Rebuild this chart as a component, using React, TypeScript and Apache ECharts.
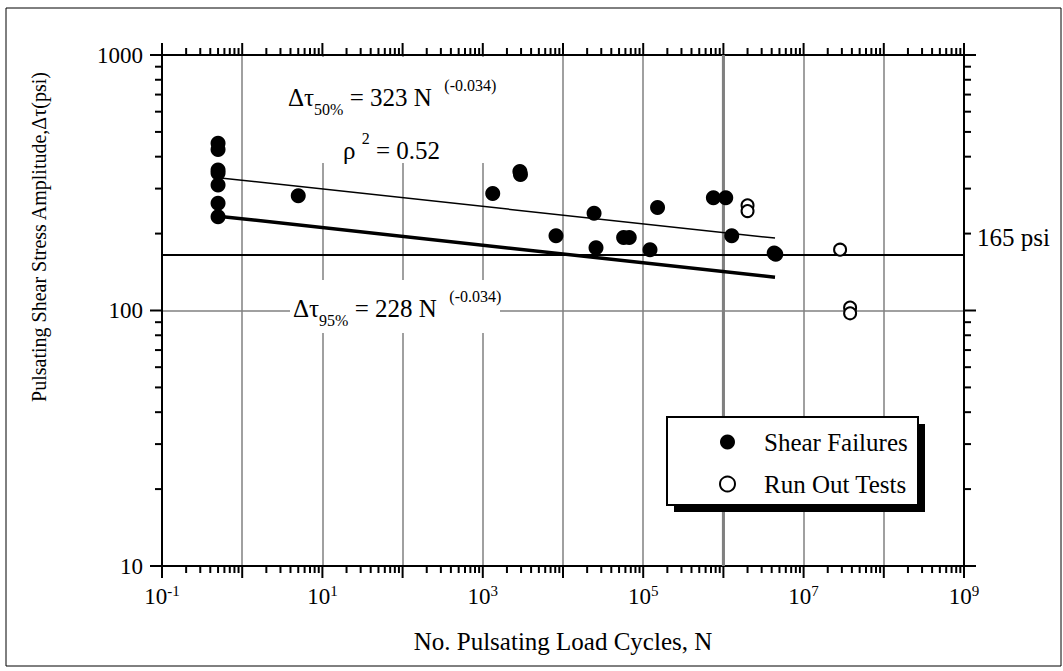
import React, { useEffect, useRef } from 'react';
import * as echarts from 'echarts';

const FONT = '"Liberation Serif", "Times New Roman", Times, serif';

// Shear failures (filled circles)
const shearCycles = [0.5, 0.5, 0.5, 0.5, 0.5, 0.5, 0.5, 5, 1330, 2900, 2950, 8180, 24400, 25800, 57000, 67000, 121600, 151000, 750000, 1070000, 1270000, 4300000, 4500000];
const shearAmplitude = [451, 427, 355, 345, 310, 263, 233, 281, 287, 350, 341, 196, 240, 176, 193, 193, 173, 253, 276, 276, 196, 168, 166];

// Run out tests (open circles)
const runOutCycles = [2.0e6, 2.0e6, 2.85e7, 3.8e7, 3.8e7];
const runOutAmplitude = [258, 245, 173, 102.6, 97.5];

// Fitted lines
const fitCycles = [0.5, 4.4e6];
const fit50Amplitude = [331, 192];
const fit95Amplitude = [234, 135];

// 165 psi limit
const limitCycles = [0.1, 1.1e10];
const limitAmplitude = [165, 165];

// thick grid line at 10^6
const thickGridCycles = [1e6, 1e6];
const thickGridAmplitude = [10, 1000];

const xExponents = [-1, 0, 1, 2, 3, 4, 5, 6, 7, 8, 9];
const yMajorValues = [10, 100, 1000];
const minorMultipliers = [2, 3, 4, 5, 6, 7, 8, 9];

const xMajor = xExponents.map((e) => Math.pow(10, e));
const xMinor: number[] = [];
xExponents.slice(0, -1).forEach((e) => minorMultipliers.forEach((k) => xMinor.push(k * Math.pow(10, e))));
const yMinor: number[] = [];
[1, 2].forEach((e) => minorMultipliers.forEach((k) => yMinor.push(k * Math.pow(10, e))));

const zip = (a: number[], b: number[]) => a.map((v, i) => [v, b[i]]);

const richMain = {
  b: { fontSize: 25, fontFamily: FONT, color: '#000', lineHeight: 40, verticalAlign: 'middle' },
  sub: { fontSize: 16, fontFamily: FONT, color: '#000', lineHeight: 23, verticalAlign: 'bottom' },
  sup: { fontSize: 16, fontFamily: FONT, color: '#000', lineHeight: 34, verticalAlign: 'top' },
};

export default function App() {
  const ref = useRef<HTMLDivElement>(null);
  useEffect(() => {
    const chart = echarts.init(ref.current!, null, { renderer: 'svg' });
    const axisLine = { show: true, lineStyle: { color: '#000', width: 2 } };
    const option: any = {
      animation: false,
      backgroundColor: '#fff',
      textStyle: { fontFamily: FONT, color: '#000' },
      grid: { left: 162, top: 55, right: 99, bottom: 105, containLabel: false },
      xAxis: [
        {
          type: 'log', logBase: 10, min: 0.1, max: 1e9, interval: 1, position: 'bottom',
          axisLine, axisTick: { show: false },
          splitLine: { show: true, lineStyle: { color: '#808080', width: 1.5 } },
          axisLabel: {
            margin: 17, color: '#000',
            formatter: (v: number) => {
              const e = Math.round(Math.log10(v));
              if (Math.abs(e) % 2 !== 1) return '';
              return '{b|10}{s|' + e + '}';
            },
            rich: {
              b: { fontSize: 23, fontFamily: FONT, color: '#000', lineHeight: 26, verticalAlign: 'middle' },
              s: { fontSize: 15, fontFamily: FONT, color: '#000', lineHeight: 17, verticalAlign: 'top' },
            },
          },
        },
        {
          type: 'log', logBase: 10, min: 0.1, max: 1e9, interval: 1, position: 'top',
          axisLine, axisTick: { show: false }, splitLine: { show: false }, axisLabel: { show: false },
        },
      ],
      yAxis: [
        {
          type: 'log', logBase: 10, min: 10, max: 1000, interval: 1, position: 'left',
          axisLine, axisTick: { show: false },
          splitLine: { show: true, lineStyle: { color: '#808080', width: 1.5 } },
          axisLabel: {
            margin: 19, color: '#000', fontSize: 23, fontFamily: FONT,
            formatter: (v: number) => String(Math.round(v)),
          },
        },
        {
          type: 'log', logBase: 10, min: 10, max: 1000, interval: 1, position: 'right',
          axisLine, axisTick: { show: false }, splitLine: { show: false }, axisLabel: { show: false },
        },
      ],
      legend: {
        data: ['Shear Failures', 'Run Out Tests'],
        orient: 'vertical', left: 714, top: 424, itemWidth: 15, itemHeight: 15, itemGap: 16,
        selectedMode: false, z: 10,
        textStyle: { fontSize: 25, fontFamily: FONT, color: '#000', lineHeight: 26, padding: [0, 0, 0, 24] },
      },
      graphic: [
        { type: 'rect', z: 5, shape: { x: 6, y: 8, width: 1055, height: 658 }, style: { fill: 'none', stroke: '#000', lineWidth: 1 } },
        // white boxes behind annotations
        { type: 'rect', z: 5, shape: { x: 280, y: 57, width: 218, height: 106 }, style: { fill: '#fff' } },
        { type: 'rect', z: 5, shape: { x: 290, y: 280, width: 210, height: 53 }, style: { fill: '#fff' } },
        // legend box with shadow
        { type: 'rect', z: 6, shape: { x: 674, y: 424, width: 251, height: 88 }, style: { fill: '#000' } },
        { type: 'rect', z: 7, shape: { x: 667, y: 417, width: 251, height: 88 }, style: { fill: '#fff', stroke: '#000', lineWidth: 2 } },
        {
          type: 'text', z: 8, x: 288, y: 97,
          style: { text: '{b|Δτ}{sub|50%}{b| = 323 N  }{sup|(-0.034)}', rich: richMain, verticalAlign: 'middle', align: 'left' },
        },
        {
          type: 'text', z: 8, x: 343, y: 150,
          style: { text: '{b|ρ }{sup|2}{b| = 0.52}', rich: richMain, verticalAlign: 'middle', align: 'left' },
        },
        {
          type: 'text', z: 8, x: 293, y: 308,
          style: { text: '{b|Δτ}{sub|95%}{b| = 228 N  }{sup|(-0.034)}', rich: richMain, verticalAlign: 'middle', align: 'left' },
        },
        {
          type: 'text', z: 8, x: 977, y: 237,
          style: { text: '165 psi', font: '25px ' + FONT, fill: '#000', verticalAlign: 'middle', align: 'left' },
        },
        {
          type: 'text', z: 8, x: 563, y: 641,
          style: { text: 'No. Pulsating Load Cycles, N', font: '25px ' + FONT, fill: '#000', verticalAlign: 'middle', align: 'center' },
        },
        {
          type: 'text', z: 8, x: 39, y: 237, rotation: Math.PI / 2,
          style: { text: 'Pulsating Shear Stress Amplitude,Δτ(psi)', font: '20px ' + FONT, fill: '#000', verticalAlign: 'middle', align: 'center' },
        },
      ],
      series: [
        {
          type: 'line', name: 'grid6', data: zip(thickGridCycles, thickGridAmplitude), symbol: 'none', silent: true,
          lineStyle: { color: '#808080', width: 3 }, z: 1,
        },
        {
          type: 'line', name: 'limit', data: zip(limitCycles, limitAmplitude), symbol: 'none', silent: true, clip: false,
          lineStyle: { color: '#000', width: 2 }, z: 3,
        },
        {
          type: 'line', name: 'fit50', data: zip(fitCycles, fit50Amplitude), symbol: 'none', silent: true,
          lineStyle: { color: '#000', width: 1.5 }, z: 3,
        },
        {
          type: 'line', name: 'fit95', data: zip(fitCycles, fit95Amplitude), symbol: 'none', silent: true,
          lineStyle: { color: '#000', width: 3.5 }, z: 3,
        },
        {
          type: 'scatter', name: 'Shear Failures', data: zip(shearCycles, shearAmplitude), symbol: 'circle', symbolSize: 15,
          itemStyle: { color: '#000', opacity: 1 }, z: 4,
        },
        {
          type: 'scatter', name: 'Run Out Tests', data: zip(runOutCycles, runOutAmplitude), symbol: 'circle', symbolSize: 12,
          itemStyle: { color: '#fff', borderColor: '#000', borderWidth: 2, opacity: 1 }, z: 4,
        },
        {
          type: 'custom', name: 'ticks', silent: true, clip: false, z: 6,
          data: [[1, 100]],
          renderItem: (_params: any, api: any) => {
            const children: any[] = [];
            const seg = (x1: number, y1: number, x2: number, y2: number) =>
              children.push({ type: 'line', shape: { x1, y1, x2, y2 }, style: { stroke: '#000', lineWidth: 2 } });
            const xTicks = (vals: number[], len: number) => vals.forEach((v) => {
              const [x, yb] = api.coord([v, 10]);
              const [, yt] = api.coord([v, 1000]);
              seg(x, yb, x, yb + len);
              seg(x, yt, x, yt - len);
            });
            const yTicks = (vals: number[], len: number) => vals.forEach((v) => {
              const [xl, y] = api.coord([0.1, v]);
              const [xr] = api.coord([1e9, v]);
              seg(xl, y, xl - len, y);
              seg(xr, y, xr + len, y);
            });
            xTicks(xMajor, 12);
            xTicks(xMinor, 7);
            yTicks(yMajorValues, 12);
            yTicks(yMinor, 7);
            return { type: 'group', children };
          },
        },
      ],
    };
    chart.setOption(option);
    return () => chart.dispose();
  }, []);
  return <div ref={ref} style={{ position: 'fixed', left: 0, top: 0, width: 1063, height: 671, background: '#fff' }} />;
}
